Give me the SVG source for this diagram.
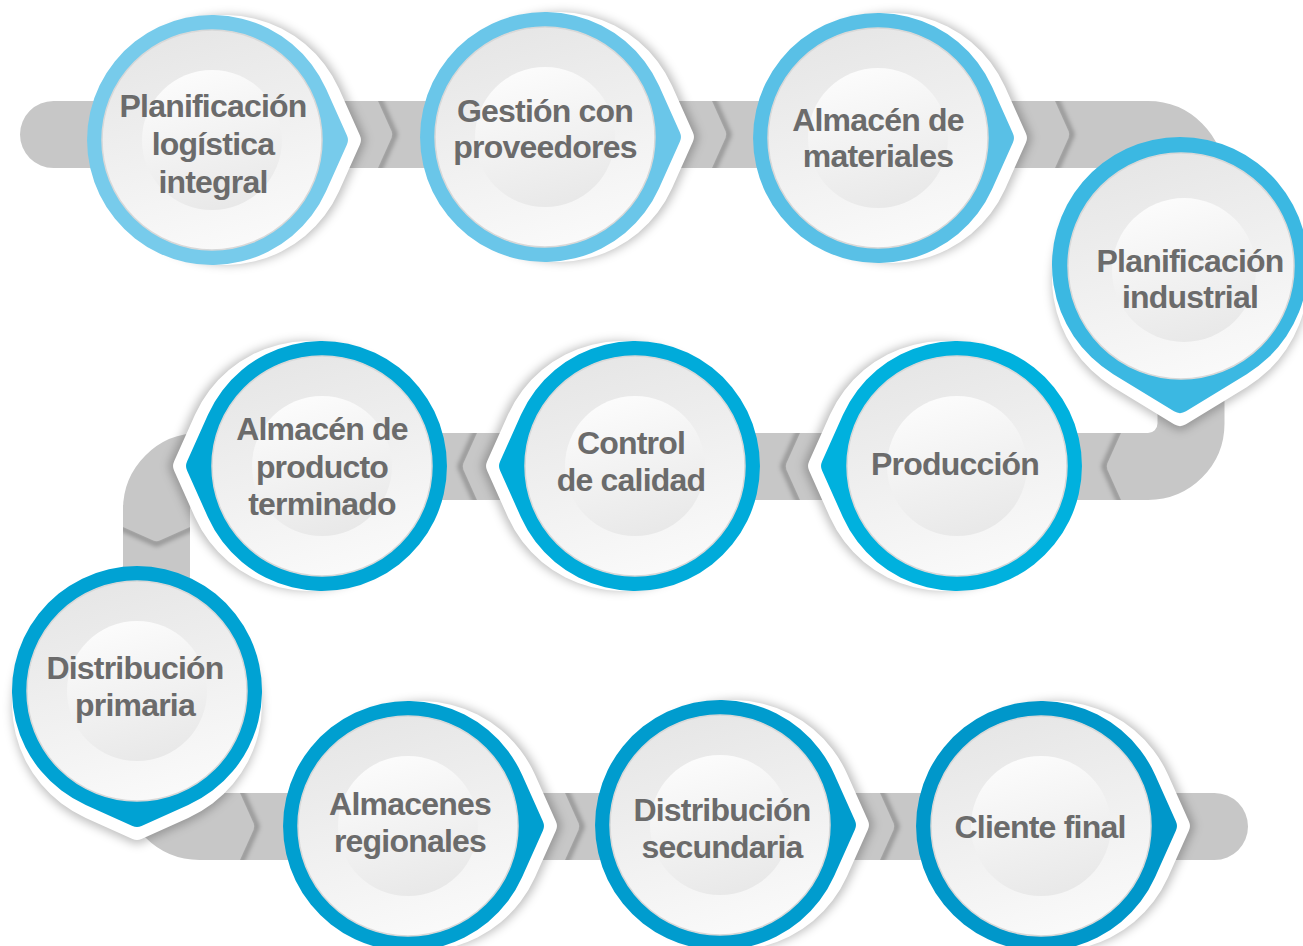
<svg xmlns="http://www.w3.org/2000/svg" xmlns:xlink="http://www.w3.org/1999/xlink" width="1303" height="946" viewBox="0 0 1303 946">
<style>
.t{font-family:"Liberation Sans",Arial,Helvetica,sans-serif;font-weight:bold;font-size:32px;fill:#6B6B6B;text-anchor:middle;letter-spacing:-0.8px}
.disk{fill:url(#gDisk);stroke:#D8D8D8;stroke-width:1.5}
.hl{fill:url(#gHl)}
.wo{fill:#FFFFFF}
.sh{fill:#000000;fill-opacity:0.25;filter:url(#fSh)}
</style>
<defs>
<filter id="fSh" x="-20%" y="-20%" width="140%" height="140%"><feGaussianBlur stdDeviation="5"/></filter>
<filter id="fCh" x="-60%" y="-20%" width="220%" height="140%"><feGaussianBlur stdDeviation="2.5"/></filter>
<linearGradient id="gDisk" x1="0.35" y1="0" x2="0.65" y2="1">
<stop offset="0" stop-color="#E6E6E6"/><stop offset="1" stop-color="#FAFAFA"/>
</linearGradient>
<linearGradient id="gHl" x1="0.35" y1="0" x2="0.65" y2="1">
<stop offset="0" stop-color="#FCFCFC"/><stop offset="1" stop-color="#E8E8E8"/>
</linearGradient>
<path id="td" d="M114.05,-51.25 L134.96,-4.56 Q137,0 134.96,4.56 L114.05,51.25 A125,125 0 1 1 114.05,-51.25 Z"/>
<path id="tdL" d="M109.2,-66.7 L146.35,-5.97 Q150,0 146.35,5.97 L109.2,66.7 A128,128 0 1 1 109.2,-66.7 Z"/>
<clipPath id="cClip"><rect x="-10" y="-33.5" width="40" height="67"/></clipPath>
<g id="chev">
<g clip-path="url(#cClip)"><path d="M-3,-45 L17,0 L-3,45" fill="none" stroke="#000000" stroke-opacity="0.35" stroke-width="4" filter="url(#fCh)"/></g>
<path d="M-22,-33.5 H0 L13.6,-3.2 Q15,0 13.6,3.2 L0,33.5 H-22 Z" fill="#C7C7C7"/>
</g>
</defs>
<rect width="1303" height="946" fill="#FFFFFF"/>
<g id="connectors">
<path d="M53.5,134.5 H1148 A43,43 0 0 1 1191,177.5 V423.5 A43,43 0 0 1 1148,466.5 H199.5 A43,43 0 0 0 156.5,509.5 V783.5 A43,43 0 0 0 199.5,826.5 H1214.5" fill="none" stroke="#C7C7C7" stroke-width="67" stroke-linecap="round"/>
<use xlink:href="#chev" transform="translate(378,134.5)"/>
<use xlink:href="#chev" transform="translate(712,134.5)"/>
<use xlink:href="#chev" transform="translate(1055,134.5)"/>
<use xlink:href="#chev" transform="translate(1121,466.5) rotate(180)"/>
<use xlink:href="#chev" transform="translate(800,466.5) rotate(180)"/>
<use xlink:href="#chev" transform="translate(477,466.5) rotate(180)"/>
<use xlink:href="#chev" transform="translate(156.5,527) rotate(90)"/>
<use xlink:href="#chev" transform="translate(240,826.5)"/>
<use xlink:href="#chev" transform="translate(565,826.5)"/>
<use xlink:href="#chev" transform="translate(880,826.5)"/>
</g>

<g id="n1">
<g transform="translate(212,140)"><use xlink:href="#td" class="sh" x="17"/><use xlink:href="#td" class="wo" x="13"/><use xlink:href="#td" fill="#77CBEB"/></g>
<circle cx="212" cy="140" r="110" class="disk"/><circle cx="212" cy="140" r="70" class="hl"/>
<text class="t" x="213" y="117">Planificación</text><text class="t" x="213" y="155">logística</text><text class="t" x="213" y="193">integral</text>
</g>
<g id="n2">
<g transform="translate(545,137)"><use xlink:href="#td" class="sh" x="17"/><use xlink:href="#td" class="wo" x="13"/><use xlink:href="#td" fill="#6AC6E9"/></g>
<circle cx="545" cy="137" r="110" class="disk"/><circle cx="545" cy="137" r="70" class="hl"/>
<text class="t" x="545" y="122">Gestión con</text><text class="t" x="545" y="158">proveedores</text>
</g>
<g id="n3">
<g transform="translate(878,138)"><use xlink:href="#td" class="sh" x="17"/><use xlink:href="#td" class="wo" x="13"/><use xlink:href="#td" fill="#59C0E6"/></g>
<circle cx="878" cy="138" r="110" class="disk"/><circle cx="878" cy="138" r="70" class="hl"/>
<text class="t" x="878" y="131">Almacén de</text><text class="t" x="878" y="167">materiales</text>
</g>
<g id="n4">
<g transform="translate(1180,265) rotate(90)"><use xlink:href="#tdL" class="sh" x="17"/><use xlink:href="#tdL" class="wo" x="13"/><use xlink:href="#tdL" fill="#3BB8E2"/></g>
<circle cx="1181" cy="266" r="113" class="disk"/><circle cx="1184" cy="270" r="72" class="hl"/>
<text class="t" x="1190" y="272">Planificación</text><text class="t" x="1190" y="308">industrial</text>
</g>
<g id="n5">
<g transform="translate(957,466) rotate(180)"><use xlink:href="#td" class="sh" x="17"/><use xlink:href="#td" class="wo" x="13"/><use xlink:href="#td" fill="#00B1DE"/></g>
<circle cx="957" cy="466" r="110" class="disk"/><circle cx="957" cy="466" r="70" class="hl"/>
<text class="t" x="955" y="475">Producción</text>
</g>
<g id="n6">
<g transform="translate(635,466) rotate(180)"><use xlink:href="#td" class="sh" x="17"/><use xlink:href="#td" class="wo" x="13"/><use xlink:href="#td" fill="#00ABDA"/></g>
<circle cx="635" cy="466" r="110" class="disk"/><circle cx="635" cy="466" r="70" class="hl"/>
<text class="t" x="631" y="454">Control</text><text class="t" x="631" y="491">de calidad</text>
</g>
<g id="n7">
<g transform="translate(322,466) rotate(180)"><use xlink:href="#td" class="sh" x="17"/><use xlink:href="#td" class="wo" x="13"/><use xlink:href="#td" fill="#00A6D6"/></g>
<circle cx="322" cy="466" r="110" class="disk"/><circle cx="322" cy="466" r="70" class="hl"/>
<text class="t" x="322" y="440">Almacén de</text><text class="t" x="322" y="478">producto</text><text class="t" x="322" y="515">terminado</text>
</g>
<g id="n8">
<g transform="translate(137,691) rotate(90)"><use xlink:href="#td" class="sh" x="17"/><use xlink:href="#td" class="wo" x="13"/><use xlink:href="#td" fill="#00A2D3"/></g>
<circle cx="137" cy="691" r="110" class="disk"/><circle cx="137" cy="691" r="70" class="hl"/>
<text class="t" x="135" y="679">Distribución</text><text class="t" x="135" y="716">primaria</text>
</g>
<g id="n9">
<g transform="translate(408,826)"><use xlink:href="#td" class="sh" x="17"/><use xlink:href="#td" class="wo" x="13"/><use xlink:href="#td" fill="#009FD0"/></g>
<circle cx="408" cy="826" r="110" class="disk"/><circle cx="408" cy="826" r="70" class="hl"/>
<text class="t" x="410" y="815">Almacenes</text><text class="t" x="410" y="852">regionales</text>
</g>
<g id="n10">
<g transform="translate(720,825)"><use xlink:href="#td" class="sh" x="17"/><use xlink:href="#td" class="wo" x="13"/><use xlink:href="#td" fill="#009CCE"/></g>
<circle cx="720" cy="825" r="110" class="disk"/><circle cx="720" cy="825" r="70" class="hl"/>
<text class="t" x="722" y="821">Distribución</text><text class="t" x="722" y="858">secundaria</text>
</g>
<g id="n11">
<g transform="translate(1041,826)"><use xlink:href="#td" class="sh" x="17"/><use xlink:href="#td" class="wo" x="13"/><use xlink:href="#td" fill="#0097CA"/></g>
<circle cx="1041" cy="826" r="110" class="disk"/><circle cx="1041" cy="826" r="70" class="hl"/>
<text class="t" x="1040" y="838">Cliente final</text>
</g>
</svg>
